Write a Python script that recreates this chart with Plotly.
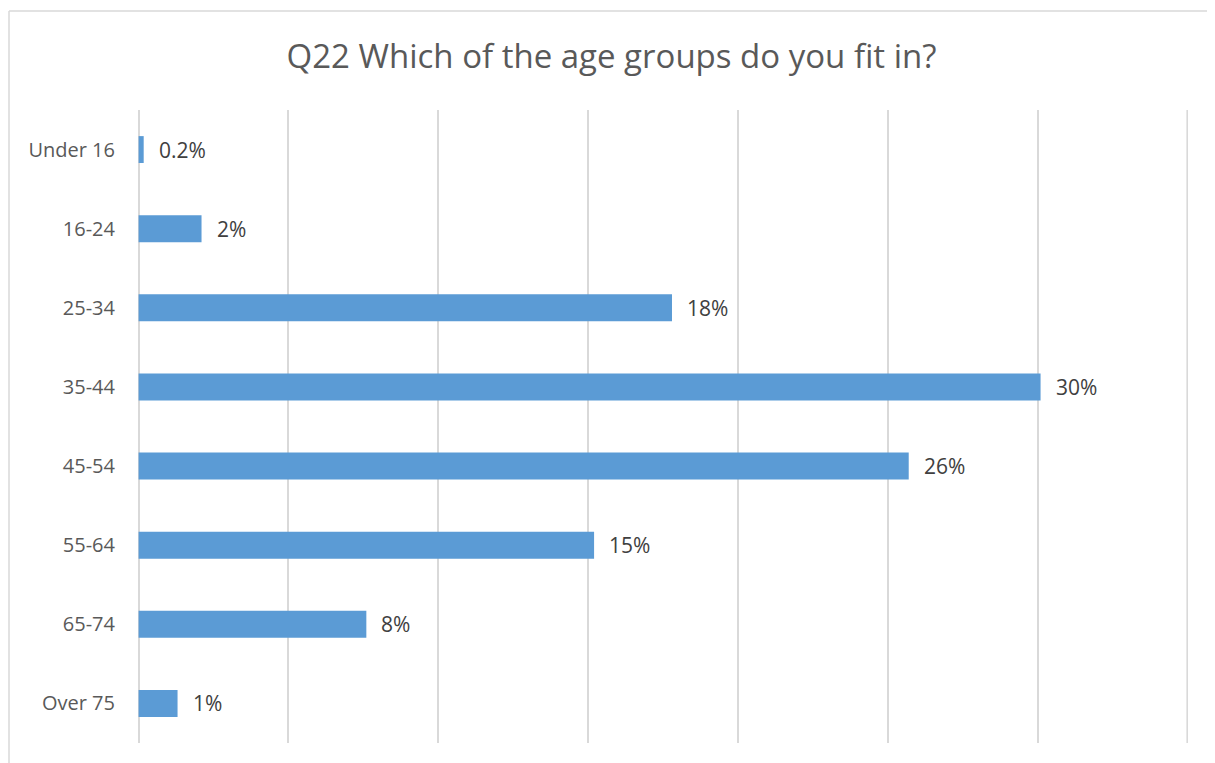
import plotly.graph_objects as go

categories = ["Under 16", "16-24", "25-34", "35-44", "45-54", "55-64", "65-74", "Over 75"]
values = [0.17, 2.1, 17.8, 30.1, 25.7, 15.2, 7.6, 1.3]
value_labels = ["0.2%", "2%", "18%", "30%", "26%", "15%", "8%", "1%"]
x_max = 35

# page body has an 8px margin, so the figure is drawn at (8, 8)
W, H = 1207, 755
ml, mr, mt, mb = 130, 27, 102, 20
plot_w = W - ml - mr
plot_h = H - mt - mb

fig = go.Figure()
fig.add_trace(go.Bar(
    x=values, y=categories, orientation="h",
    marker=dict(color="#5B9BD5", line=dict(width=0)),
    width=0.34, hoverinfo="skip",
))

for v, c, lab in zip(values, categories, value_labels):
    fig.add_annotation(x=v, y=c, text=lab, showarrow=False, xanchor="left",
                       xshift=13, font=dict(size=21, color="#404040",
                                            family="Open Sans"))

# last gridline at the right edge of the axis
fig.add_shape(type="line", xref="x", yref="paper", x0=x_max, x1=x_max, y0=0, y1=1,
              layer="below", line=dict(color="#d9d9d9", width=2))

bx = (1 - ml) / plot_w
by = (H - mb - 3) / plot_h
fig.add_shape(type="line", xref="paper", yref="paper", x0=bx, x1=bx, y0=by, y1=-0.2,
              line=dict(color="#d9d9d9", width=1.5))
fig.add_shape(type="line", xref="paper", yref="paper", x0=bx, x1=1.2, y0=by, y1=by,
              line=dict(color="#d9d9d9", width=1.5))

fig.update_layout(
    width=W, height=H,
    margin=dict(l=ml, r=mr, t=mt, b=mb, autoexpand=False),
    paper_bgcolor="white", plot_bgcolor="white",
    showlegend=False,
    title=dict(text="Q22 Which of the age groups do you fit in?",
               xref="container", x=0.5, xanchor="center",
               y=1 - 48 / H, yanchor="middle",
               font=dict(size=33, color="#595959", family="Open Sans")),
    font=dict(family="Open Sans"),
    xaxis=dict(range=[-0.02, x_max + 0.02], dtick=5, tick0=0, showticklabels=False,
               showgrid=True, gridcolor="#d9d9d9", gridwidth=2,
               zeroline=True, zerolinecolor="#d9d9d9", zerolinewidth=2,
               showline=False, ticks=""),
    yaxis=dict(categoryorder="array", categoryarray=categories[::-1],
               autorange=False, range=[-0.5, len(categories) - 0.5],
               tickfont=dict(size=20, color="#595959", family="Open Sans"),
               ticks="", showline=False, showgrid=False, zeroline=False,
               ticklabelstandoff=22),
)

fig.write_html("out.html")
